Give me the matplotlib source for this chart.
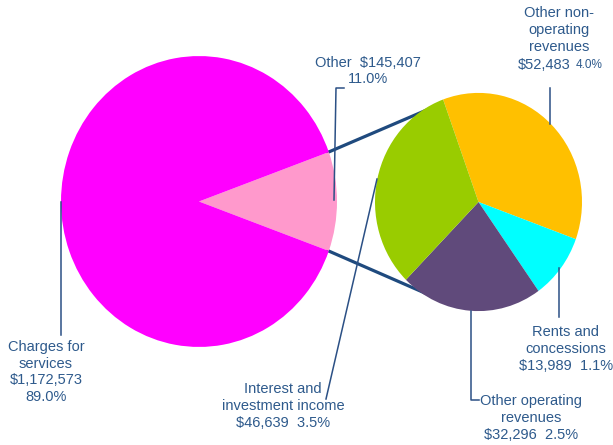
import matplotlib
matplotlib.use('Agg')
import matplotlib.pyplot as plt
import numpy as np

# ---------------- data ----------------
main_labels = ['Other', 'Charges for\nservices']
main_values = [145407, 1172573]
main_colors = ['#FF99CC', '#FF00FF']

sub_labels = ['Other non-\noperating\nrevenues', 'Rents and\nconcessions',
              'Other operating\nrevenues', 'Interest and\ninvestment income']
sub_values = [52483, 13989, 32296, 46639]
sub_colors = ['#FFC000', '#00FFFF', '#604A7B', '#99CC00']

total = sum(main_values)

def money(v):
    return '${:,}'.format(v)

def pct(v):
    return '{:.1f}%'.format(100.0 * v / total)

# ---------------- figure ----------------
W, H = 613, 445
S = 1.054  # vertical stretch of the pies in the original
plt.rcParams['font.family'] = ['Liberation Sans', 'DejaVu Sans']
TXT = '#2E5A8C'
LEAD = '#2B5085'
CONN = '#1F4A7E'

fig = plt.figure(figsize=(W / 100, H / 100), dpi=100)
ax = fig.add_axes([0, 0, 1, 1])


def D(px, py):
    return px, (H - py) / S


big_c = D(199, 201.5)
big_r = 138
small_c = D(478.5, 202)
small_r = 103.5

frac_other = main_values[0] / total
w_main, _ = ax.pie(main_values, colors=main_colors, startangle=-frac_other * 180,
                   counterclock=True, center=big_c, radius=big_r,
                   wedgeprops=dict(linewidth=0), frame=True)
w_sub, _ = ax.pie(sub_values, colors=sub_colors, startangle=110,
                  counterclock=False, center=small_c, radius=small_r,
                  wedgeprops=dict(linewidth=0), frame=True)
for w in list(w_main) + list(w_sub):
    w.set_zorder(2)

ax.set_aspect('auto')
ax.set_xlim(0, W)
ax.set_ylim(0, H / S)
ax.axis('off')

# connector lines between the pies
pink = w_main[0]
a_top, a_bot = np.deg2rad(pink.theta2), np.deg2rad(pink.theta1)
ends = [np.deg2rad(113), np.deg2rad(-115)]
for a0, a1 in zip([a_top, a_bot], ends):
    x0 = big_c[0] + 0.98 * big_r * np.cos(a0)
    y0 = big_c[1] + 0.98 * big_r * np.sin(a0)
    x1 = small_c[0] + 0.97 * small_r * np.cos(a1)
    y1 = small_c[1] + 0.97 * small_r * np.sin(a1)
    ax.plot([x0, x1], [y0, y1], color=CONN, lw=2.3, zorder=1.5,
            solid_capstyle='butt')


def lead(pts):
    xs, ys = zip(*[D(px, py) for px, py in pts])
    ax.plot(xs, ys, color=LEAD, lw=1.1, zorder=3)


def txt(px, py, s, size=10.5, ha='center'):
    x, y = D(px, py)
    ax.text(x, y, s, ha=ha, va='center', fontsize=size, color=TXT,
            linespacing=1.25, zorder=4)


# Charges for services
lead([(61, 202), (61, 335)])
txt(46, 372, main_labels[1] + '\n' + money(main_values[1]) + '\n' + pct(main_values[1]))

# Other (11%)
lead([(344, 88), (336, 88), (334, 200)])
txt(368, 71, main_labels[0] + '  ' + money(main_values[0]) + '\n' + pct(main_values[0]))

# Other non-operating revenues
lead([(550, 88), (550, 124)])
txt(559, 30, sub_labels[0])
txt(571, 65, money(sub_values[0]), ha='right')
txt(576, 65, pct(sub_values[0]), size=8.5, ha='left')

# Rents and concessions
lead([(559, 268), (559, 317)])
txt(566, 349, sub_labels[1] + '\n' + money(sub_values[1]) + '  ' + pct(sub_values[1]))

# Other operating revenues
lead([(471, 311), (471, 400), (479, 400)])
txt(531, 418, sub_labels[2] + '\n' + money(sub_values[2]) + '  ' + pct(sub_values[2]))

# Interest and investment income
lead([(377, 179), (326, 399)])
txt(283, 406, sub_labels[3] + '\n' + money(sub_values[3]) + '  ' + pct(sub_values[3]))

fig.savefig('out.png', dpi=100)
